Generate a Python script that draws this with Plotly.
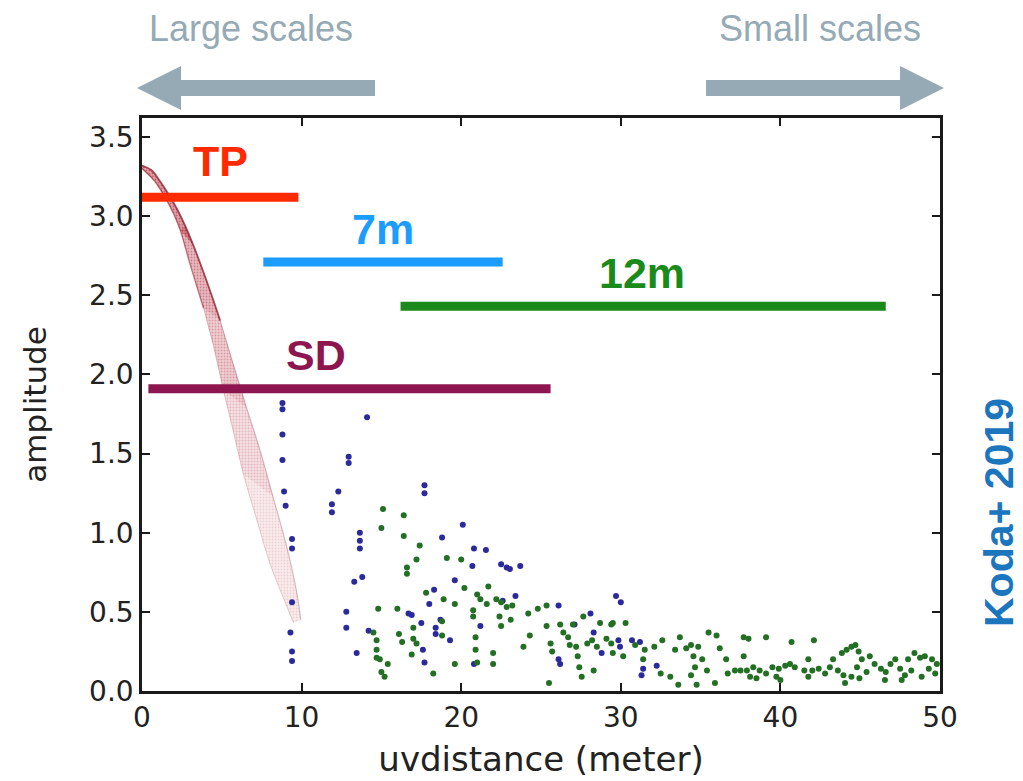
import plotly.graph_objects as go

# ---- visibility amplitude vs uv-distance for each array ----
# Total-power model band (outer and inner envelope of the Gaussian-like drop)
tp_outer_x = [0.0, 0.6, 1.13, 1.65, 2.17, 2.7, 3.2, 4.05, 4.9, 5.7, 6.55, 7.4, 8.2, 9.07, 9.7, 9.95]
tp_outer_y = [3.32, 3.29, 3.22, 3.14, 3.05, 2.94, 2.82, 2.59, 2.34, 2.07, 1.79, 1.52, 1.23, 0.91, 0.62, 0.45]
tp_inner_x = [0.0, 0.8, 1.55, 2.0, 2.4, 3.0, 3.85, 4.5, 5.1, 5.7, 6.35, 7.2, 8.0, 8.85, 9.5]
tp_inner_y = [3.30, 3.22, 3.10, 3.01, 2.91, 2.70, 2.42, 2.17, 1.90, 1.65, 1.37, 1.08, 0.81, 0.59, 0.43]

# 7m array visibilities
aca_x = [8.8, 8.8, 8.8, 8.8, 8.9, 9.0, 9.4, 9.4, 9.4, 9.3, 9.4, 9.4,
         14.1, 12.95, 12.95, 12.3, 11.9, 11.9, 13.65, 13.65, 13.65, 13.3, 13.8,
         12.8, 12.8, 14.2, 13.45, 17.7, 17.7, 18.8, 18.3, 18.0, 16.9, 17.5,
         18.4, 18.4, 18.7, 17.6, 17.7, 16.7, 20.1, 20.8, 21.55, 20.7, 22.5,
         22.85, 23.05, 23.7, 19.6, 23.4, 22.6, 21.2, 19.3, 20.8, 26.1, 26.1,
         26.2, 28.1, 28.3, 27.1, 28.8, 29.7, 30.0, 29.85, 29.95, 30.7, 31.2,
         31.4, 31.3, 32.25]
aca_y = [1.82, 1.78, 1.62, 1.46, 1.26, 1.17, 0.96, 0.90, 0.56, 0.37, 0.25, 0.19,
         1.73, 1.48, 1.44, 1.26, 1.18, 1.13, 1.00, 0.95, 0.90, 0.69, 0.72,
         0.50, 0.40, 0.38, 0.24, 1.30, 1.25, 0.97, 0.64, 0.55, 0.48, 0.43,
         0.40, 0.36, 0.45, 0.26, 0.18, 0.49, 1.05, 0.90, 0.89, 0.79, 0.80,
         0.78, 0.77, 0.79, 0.70, 0.60, 0.57, 0.41, 0.32, 0.17, 0.54, 0.20,
         0.17, 0.49, 0.37, 0.42, 0.24, 0.60, 0.56, 0.32, 0.28, 0.32, 0.31,
         0.14, 0.10, 0.16]

# 12m array visibilities
main_x = [15.1, 16.4, 15.0, 16.4, 17.4, 17.2, 16.6, 16.6, 19.1, 14.8, 16.0, 17.8,
          18.9, 14.7, 14.7, 14.7, 14.9, 15.2, 15.0, 15.4, 16.1, 16.3, 17.0, 17.0,
          16.9, 17.2, 18.25, 18.8, 14.5, 20.0, 20.2, 21.7, 21.0, 21.2, 19.6, 21.6,
          22.2, 22.5, 22.85, 23.2, 20.75, 20.75, 22.4, 23.1, 22.5, 18.8, 20.9, 20.9,
          22.0, 22.0, 21.0, 19.6, 24.3, 23.9, 24.2, 24.8, 25.35, 25.35, 25.6, 25.7,
          25.5, 26.2, 26.4, 26.7, 26.8, 27.0, 27.2, 27.3, 27.4, 27.55, 27.65, 27.9,
          28.2, 28.5, 28.3, 28.7, 29.1, 29.4, 29.4, 29.5, 30.3, 29.5, 30.15, 30.9,
          31.5, 31.4, 32.1, 32.6, 32.5, 33.1, 33.7, 33.4, 34.1, 34.4, 34.85, 34.55,
          35.1, 35.4, 34.65, 33.6, 34.4, 34.75, 35.5, 36.0, 36.2, 35.9, 36.6, 37.15,
          36.7, 37.7, 38.0, 39.1, 37.7, 37.5, 37.9, 38.3, 38.7, 38.1, 38.5, 39.1,
          39.5, 39.75, 40.7, 42.1, 41.75, 39.9, 40.3, 40.6, 40.0, 41.5, 42.0, 42.4,
          42.8, 43.1, 43.3, 43.85, 44.15, 44.45, 44.7, 43.6, 43.95, 44.05, 44.9, 45.1,
          44.8, 45.4, 45.6, 45.9, 44.45, 44.95, 46.3, 46.6, 46.9, 47.2, 47.5, 47.8,
          48.0, 48.4, 48.75, 49.05, 48.2, 48.85, 49.3, 49.7, 49.5, 49.8, 46.55, 47.6,
          41.75, 40.9]
main_y = [1.15, 1.11, 1.03, 0.98, 0.92, 0.83, 0.78, 0.74, 0.84, 0.52, 0.52, 0.62,
          0.58, 0.32, 0.26, 0.21, 0.20, 0.09, 0.12, 0.17, 0.36, 0.31, 0.40, 0.33,
          0.23, 0.30, 0.11, 0.35, 0.37, 0.83, 0.65, 0.66, 0.61, 0.58, 0.55, 0.55,
          0.58, 0.56, 0.53, 0.54, 0.51, 0.47, 0.47, 0.45, 0.41, 0.44, 0.34, 0.26,
          0.24, 0.17, 0.18, 0.17, 0.35, 0.28, 0.49, 0.52, 0.54, 0.41, 0.30, 0.25,
          0.05, 0.42, 0.37, 0.34, 0.29, 0.42, 0.28, 0.22, 0.15, 0.09, 0.47, 0.30,
          0.32, 0.28, 0.13, 0.43, 0.33, 0.30, 0.42, 0.43, 0.43, 0.24, 0.22, 0.29,
          0.26, 0.20, 0.28, 0.32, 0.11, 0.09, 0.34, 0.26, 0.27, 0.29, 0.28, 0.22,
          0.20, 0.13, 0.15, 0.04, 0.10, 0.04, 0.37, 0.35, 0.27, 0.05, 0.20, 0.13,
          0.11, 0.34, 0.33, 0.34, 0.22, 0.13, 0.13, 0.15, 0.13, 0.09, 0.08, 0.11,
          0.15, 0.09, 0.31, 0.32, 0.20, 0.14, 0.16, 0.17, 0.07, 0.13, 0.13, 0.14,
          0.11, 0.15, 0.20, 0.24, 0.26, 0.28, 0.29, 0.13, 0.10, 0.05, 0.25, 0.20,
          0.15, 0.12, 0.22, 0.17, 0.09, 0.08, 0.14, 0.12, 0.17, 0.20, 0.14, 0.10,
          0.20, 0.24, 0.21, 0.22, 0.13, 0.09, 0.14, 0.11, 0.20, 0.17, 0.07, 0.07,
          0.09, 0.15]

# uv-coverage ranges of each instrument: (label, x_start, x_end, level, colour, label_x, label_y)
ranges = [
    ("TP", 0.0, 9.8, 3.12, "#ff2a00", 4.9, 3.35),
    ("7m", 7.6, 22.6, 2.71, "#1b9cff", 15.1, 2.92),
    ("12m", 16.2, 46.6, 2.43, "#1a8a1a", 31.3, 2.64),
    ("SD", 0.4, 25.6, 1.91, "#8e1650", 10.9, 2.12),
]

W, H = 1023, 781
ML, MR, MT, MB = 142, 83, 118, 90


def px(x, y):
    """Pixel position on the page -> paper coordinates."""
    return (x - ML) / (W - ML - MR), (H - MB - y) / (H - MT - MB)


def band_slice(ylo, yhi):
    """Closed polygon of the TP band between two amplitude levels."""
    ox = [x for x, y in zip(tp_outer_x, tp_outer_y) if ylo <= y <= yhi]
    oy = [y for y in tp_outer_y if ylo <= y <= yhi]
    ix = [x for x, y in zip(tp_inner_x, tp_inner_y) if ylo <= y <= yhi]
    iy = [y for y in tp_inner_y if ylo <= y <= yhi]
    xs = ox + ix[::-1]
    ys = oy + iy[::-1]
    return xs + [xs[0]], ys + [ys[0]]


fig = go.Figure()

# TP band: dense and dark at the top, thinning out to pale pink in the tail
band_levels = [(2.80, 3.40, 0.50, 0.85), (2.30, 2.95, 0.36, 0.70),
               (1.75, 2.45, 0.26, 0.55), (1.20, 1.90, 0.17, 0.40),
               (0.40, 1.40, 0.10, 0.28)]
for ylo, yhi, a_bg, a_fg in band_levels:
    xs, ys = band_slice(ylo, yhi)
    bg = f"rgba(195,65,80,{a_bg})"
    fg = f"rgba(150,25,40,{a_fg})"
    fig.add_trace(go.Scatter(
        x=xs, y=ys, mode="lines", fill="toself", fillcolor=bg,
        line=dict(width=0),
        fillpattern=dict(shape=".", fgcolor=fg, bgcolor=bg, size=3, solidity=0.3),
        hoverinfo="skip", showlegend=False))

# envelope of the band, darker where the curves crowd together
edge_runs = [(tp_outer_x, tp_outer_y, 0, 9, 0.75, 1.8),
             (tp_outer_x, tp_outer_y, 8, 16, 0.30, 1.1),
             (tp_inner_x, tp_inner_y, 0, 7, 0.55, 1.4),
             (tp_inner_x, tp_inner_y, 6, 15, 0.22, 1.0)]
for ex, ey, i0, i1, alpha, lw in edge_runs:
    fig.add_trace(go.Scatter(x=ex[i0:i1], y=ey[i0:i1], mode="lines",
                             line=dict(color=f"rgba(135,20,35,{alpha})", width=lw, shape="spline"),
                             hoverinfo="skip", showlegend=False))

fig.add_trace(go.Scatter(x=aca_x, y=aca_y, mode="markers", name="7m",
                         marker=dict(color="#2a2a9c", size=6), showlegend=False))
fig.add_trace(go.Scatter(x=main_x, y=main_y, mode="markers", name="12m",
                         marker=dict(color="#236f23", size=6), showlegend=False))

for label, x0, x1, lvl, col, lx, ly in ranges:
    fig.add_trace(go.Scatter(x=[x0, x1], y=[lvl, lvl], mode="lines",
                             line=dict(color=col, width=9), showlegend=False,
                             hoverinfo="skip"))
    fig.add_annotation(x=lx, y=ly, xref="x", yref="y", text=f"<b>{label}</b>",
                       showarrow=False, xanchor="center", yanchor="middle",
                       font=dict(family="Liberation Sans, Arial", size=43, color=col))

# scale arrows above the plot
arrow_col = "#95aab5"
left_arrow = [(137, 88), (181, 66), (181, 80), (375, 80), (375, 96), (181, 96), (181, 110)]
right_arrow = [(706, 80), (900, 80), (900, 66), (944, 88), (900, 110), (900, 96), (706, 96)]
for poly in (left_arrow, right_arrow):
    pts = [px(a, b) for a, b in poly]
    path = "M " + " L ".join(f"{a:.4f},{b:.4f}" for a, b in pts) + " Z"
    fig.add_shape(type="path", path=path, xref="paper", yref="paper",
                  fillcolor=arrow_col, line=dict(width=0), layer="above")

for txt, cx in (("Large scales", 251), ("Small scales", 820)):
    ax, ay = px(cx, 29)
    fig.add_annotation(x=ax, y=ay, xref="paper", yref="paper", text=txt,
                       showarrow=False, xanchor="center", yanchor="middle",
                       font=dict(family="Liberation Sans, Arial", size=36, color=arrow_col))

kx, ky = px(999, 512)
fig.add_annotation(x=kx, y=ky, xref="paper", yref="paper", text="<b>Koda+ 2019</b>",
                   showarrow=False, textangle=-90, xanchor="center", yanchor="middle",
                   borderpad=0,
                   font=dict(family="Liberation Sans, Arial", size=41, color="#1b76bd"))

axis_common = dict(showgrid=False, zeroline=False, showline=True, linecolor="#1a1a1a",
                   linewidth=2.5, mirror="ticks", ticks="inside", ticklen=8,
                   tickwidth=1.5, tickcolor="#1a1a1a", automargin=False,
                   tickfont=dict(family="DejaVu Sans", size=28, color="#222222"))

fig.update_layout(
    width=W, height=H,
    margin=dict(l=ML, r=MR, t=MT, b=MB),
    paper_bgcolor="white", plot_bgcolor="white",
    font=dict(family="DejaVu Sans", color="#222222"),
    xaxis=dict(range=[0, 50], tickvals=[0, 10, 20, 30, 40, 50],
               title=dict(text="uvdistance (meter)", font=dict(size=34), standoff=14),
               **axis_common),
    yaxis=dict(range=[0, 3.62], tickvals=[0, 0.5, 1.0, 1.5, 2.0, 2.5, 3.0, 3.5],
               tickformat=".1f",
               title=dict(text="amplitude", font=dict(size=31), standoff=34),
               **axis_common),
)

fig.write_html("out.html")
